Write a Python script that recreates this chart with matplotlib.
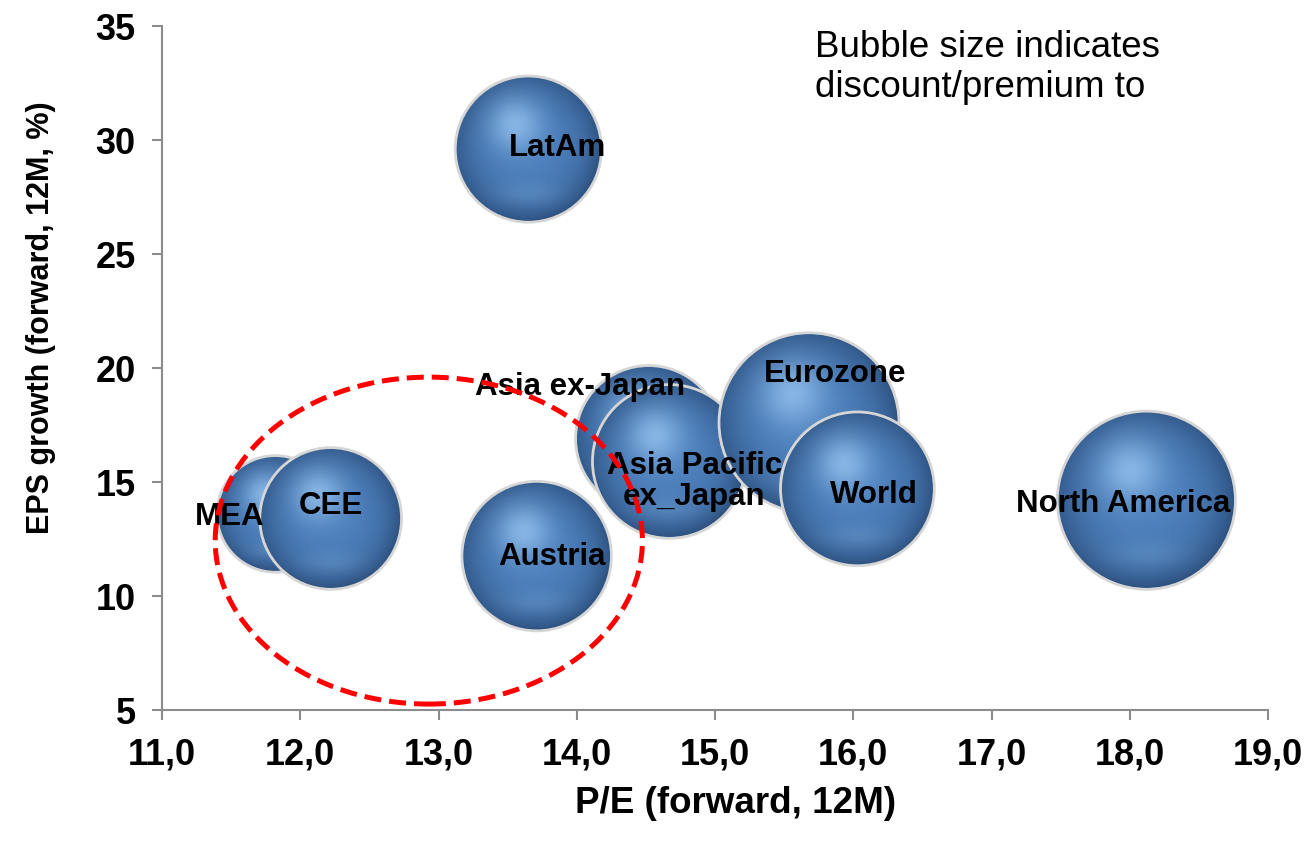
import numpy as np
import matplotlib
matplotlib.use("Agg")
import matplotlib.pyplot as plt
from matplotlib.patches import Ellipse
from matplotlib.ticker import FuncFormatter, MultipleLocator

plt.rcParams['font.family'] = ['Liberation Sans', 'DejaVu Sans']

# Regions: forward P/E vs forward EPS growth, bubble = discount/premium
regions = ["LatAm", "MEA", "CEE", "Austria", "Asia ex-Japan",
           "Asia Pacific\nex_Japan", "Eurozone", "World", "North America"]
pe_fwd = [13.65, 11.82, 12.22, 13.71, 14.52, 14.67, 15.68, 16.03, 18.12]
eps_growth = [29.6, 13.6, 13.4, 11.75, 16.9, 15.9, 17.6, 14.7, 14.2]
bubble_size = [66, 42, 62, 69, 66, 73, 100, 73, 98]

# label offsets from the bubble centre (pixels, +x right, +y down)
label_offset = [(29, -2), (-46, 2), (0, -13), (15, 0), (-69, -53),
                (25, 19), (26, -50), (17, 5), (-23, 3)]

MAX_RADIUS_PX = 90


def sphere_image(n=300):
    v, u = np.mgrid[1:-1:n * 1j, -1:1:n * 1j]
    d = np.hypot(u, v)
    base = np.array([0.30, 0.50, 0.74])
    dark = np.array([0.11, 0.22, 0.37])
    light = np.array([0.68, 0.85, 1.0])
    edge = np.clip(d, 0, 1) ** 3 * (0.58 + 0.14 * (u - v) / 2)
    rgb = base * (1 - edge[..., None]) + dark * edge[..., None]
    hl = np.exp(-((u + 0.18) ** 2 + (v - 0.33) ** 2) / 0.13) * 0.6
    rgb = rgb * (1 - hl[..., None]) + light * hl[..., None]
    glow = np.exp(-((u / 0.45) ** 2 + ((v + 0.62) / 0.16) ** 2)) * 0.15
    rgb = rgb * (1 - glow[..., None]) + light * glow[..., None]
    alpha = np.clip((1 - d) * n / 2, 0, 1)
    return np.dstack([rgb, alpha])


fig = plt.figure(figsize=(13.09, 8.53), dpi=100)
ax = fig.add_axes([162 / 1309, 1 - 711 / 853, 1106 / 1309, 684 / 853])
ax.set_xlim(11, 19)
ax.set_ylim(5, 35)

img = sphere_image()
to_data = ax.transData.inverted()
for i, (x, y, s) in enumerate(zip(pe_fwd, eps_growth, bubble_size)):
    r = MAX_RADIUS_PX * np.sqrt(s / max(bubble_size))
    cx, cy = ax.transData.transform((x, y))
    x0, y0 = to_data.transform((cx - r, cy - r))
    x1, y1 = to_data.transform((cx + r, cy + r))
    ax.imshow(img, extent=[x0, x1, y0, y1], aspect='auto',
              interpolation='bilinear', zorder=3 + i)
    ax.add_patch(Ellipse((x, y), x1 - x0, y1 - y0, facecolor='none',
                         edgecolor='#d6d6d6', lw=2, zorder=3 + i))

for name, x, y, (dx, dy) in zip(regions, pe_fwd, eps_growth, label_offset):
    ax.annotate(name, (x, y), xytext=(dx * 0.72, -dy * 0.72),
                textcoords='offset points', ha='center', va='center',
                fontsize=22.5, fontweight='bold', color='black',
                linespacing=1.05, zorder=30)

# highlighted group: MEA, CEE, Austria
ax.add_patch(Ellipse((12.93, 12.43), 3.09, 14.34, facecolor='none',
                     edgecolor='#ff0000', lw=3.6, linestyle=(0, (3.4, 1.6)),
                     zorder=40))

ax.set_xlim(11, 19)
ax.set_ylim(5, 35)
ax.xaxis.set_major_locator(MultipleLocator(1))
ax.yaxis.set_major_locator(MultipleLocator(5))
ax.xaxis.set_major_formatter(FuncFormatter(lambda v, p: f"{v:.1f}".replace('.', ',')))
ax.yaxis.set_major_formatter(FuncFormatter(lambda v, p: f"{v:.0f}"))

for side in ['top', 'right']:
    ax.spines[side].set_visible(False)
for side in ['left', 'bottom']:
    ax.spines[side].set_color('#8c8c8c')
    ax.spines[side].set_linewidth(1.5)
ax.tick_params(axis='both', colors='#8c8c8c', length=7, width=1.5)
ax.tick_params(axis='x', pad=12)
ax.tick_params(axis='y', pad=12)
for lbl in ax.get_xticklabels() + ax.get_yticklabels():
    lbl.set_fontsize(26)
    lbl.set_fontweight('bold')
    lbl.set_color('black')

ax.set_xlabel("P/E (forward, 12M)", fontsize=26.5, fontweight='bold', va='center')
ax.xaxis.set_label_coords(0.519, -0.135)
ax.set_ylabel("EPS growth (forward, 12M, %)", fontsize=22, fontweight='bold', va='center')
ax.yaxis.set_label_coords(-0.109, 0.575)

ax.text(0.590, 0.9956, "Bubble size indicates\ndiscount/premium to",
        transform=ax.transAxes, ha='left', va='top', fontsize=26.5,
        linespacing=1.2, color='black', zorder=50)

fig.savefig("out.png", dpi=100)
